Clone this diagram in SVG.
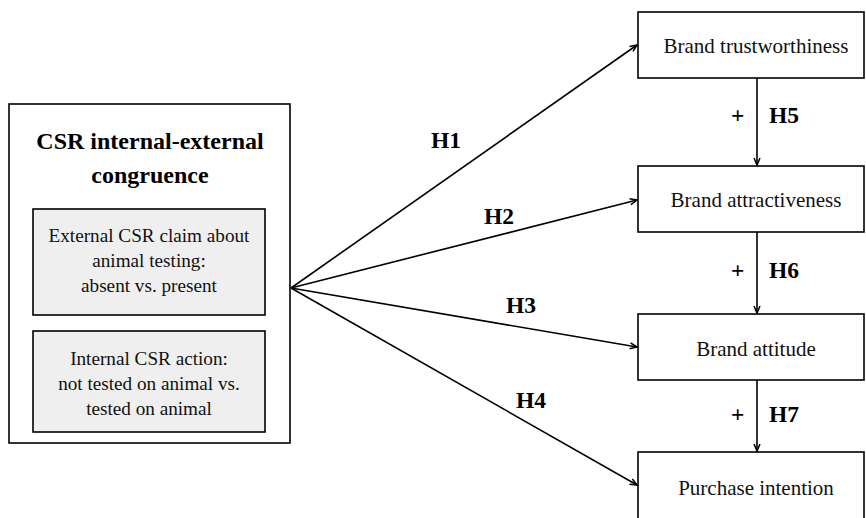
<svg xmlns="http://www.w3.org/2000/svg" width="866" height="518" viewBox="0 0 866 518">
<style>
.box{fill:#fff;stroke:#000;stroke-width:1.6}
.inner{fill:#efefef;stroke:#000;stroke-width:1.6}
.t{font-family:"Liberation Serif",serif;font-size:21px;fill:#111;text-anchor:middle}
.s{font-size:19.2px}
.title{font-family:"Liberation Serif",serif;font-size:24px;font-weight:bold;fill:#000;text-anchor:middle}
.h{font-family:"Liberation Serif",serif;font-size:23.5px;font-weight:bold;fill:#000}
.c{stroke:#000;stroke-width:1.6;fill:none;marker-end:url(#ah)}
</style>
<defs>
<marker id="ah" markerWidth="10" markerHeight="10" refX="8" refY="4" orient="auto" markerUnits="userSpaceOnUse">
<path d="M1,1 L8,4 L1,7" fill="none" stroke="#000" stroke-width="1.5"/>
</marker>
</defs>
<g id="csr">
<rect class="box" x="9" y="104" width="281" height="339"/>
<text class="title" x="150" y="149">CSR internal-external</text>
<text class="title" x="150" y="183">congruence</text>
</g>
<g id="external">
<rect class="inner" x="33" y="209" width="232" height="106"/>
<text class="t s" x="149" y="242">External CSR claim about</text>
<text class="t s" x="149" y="267">animal testing:</text>
<text class="t s" x="149" y="292">absent vs. present</text>
</g>
<g id="internal">
<rect class="inner" x="33" y="331" width="232" height="101"/>
<text class="t s" x="149" y="365">Internal CSR action:</text>
<text class="t s" x="149" y="390">not tested on animal vs.</text>
<text class="t s" x="149" y="415">tested on animal</text>
</g>
<g id="trust">
<rect class="box" x="638" y="12" width="226" height="66"/>
<text class="t" x="756" y="53">Brand trustworthiness</text>
</g>
<g id="attract">
<rect class="box" x="638" y="166" width="226" height="66"/>
<text class="t" x="756" y="207">Brand attractiveness</text>
</g>
<g id="attitude">
<rect class="box" x="638" y="314" width="226" height="66"/>
<text class="t" x="756" y="356">Brand attitude</text>
</g>
<g id="purchase">
<rect class="box" x="638" y="452" width="226" height="70"/>
<text class="t" x="756" y="495">Purchase intention</text>
</g>
<g id="connectors">
<line class="c" x1="291" y1="288" x2="637" y2="45"/>
<line class="c" x1="291" y1="288" x2="637" y2="200"/>
<line class="c" x1="291" y1="288" x2="637" y2="347"/>
<line class="c" x1="291" y1="288" x2="637" y2="485"/>
<line class="c" x1="757" y1="78" x2="757" y2="165"/>
<line class="c" x1="757" y1="232" x2="757" y2="313"/>
<line class="c" x1="757" y1="380" x2="757" y2="451"/>
<text class="h" x="431" y="148">H1</text>
<text class="h" x="484" y="224">H2</text>
<text class="h" x="506" y="313">H3</text>
<text class="h" x="516" y="408">H4</text>
<text class="h" x="731" y="123">+</text>
<text class="h" x="769" y="123">H5</text>
<text class="h" x="731" y="278">+</text>
<text class="h" x="769" y="278">H6</text>
<text class="h" x="731" y="422">+</text>
<text class="h" x="769" y="422">H7</text>
</g>
</svg>
